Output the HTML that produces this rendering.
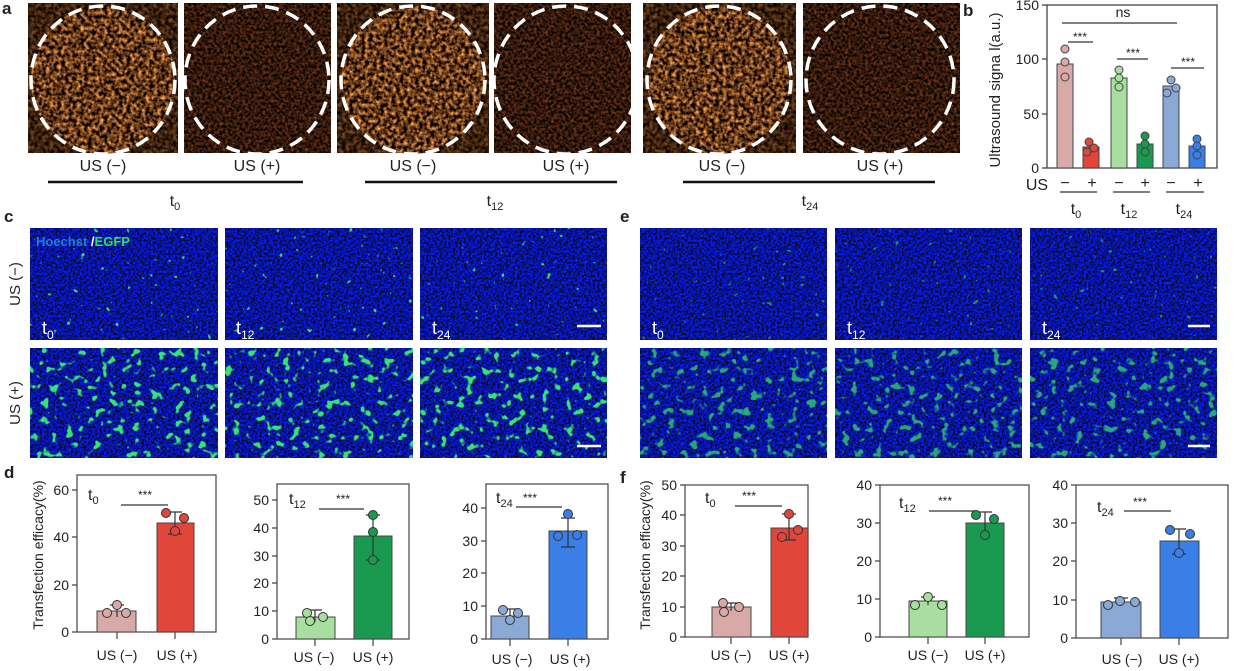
<!DOCTYPE html>
<html><head><meta charset="utf-8"><style>body{margin:0;background:#fff}svg{display:block}text{font-family:"Liberation Sans",Arial,sans-serif;fill:#222}filter{color-interpolation-filters:sRGB}</style></head><body>
<svg width="1239" height="671" viewBox="0 0 1239 671" xmlns="http://www.w3.org/2000/svg">
<defs>
<filter id="us" x="0" y="0" width="100%" height="100%" color-interpolation-filters="sRGB"><feTurbulence type="fractalNoise" baseFrequency="0.26" numOctaves="2" seed="3"/><feColorMatrix values="1.9 0 0 0 -0.55  1.3 0 0 0 -0.42  0.6 0 0 0 -0.2  0 0 0 0 1"/></filter>
<filter id="usd" x="0" y="0" width="100%" height="100%" color-interpolation-filters="sRGB"><feTurbulence type="fractalNoise" baseFrequency="0.35" numOctaves="2" seed="7"/><feColorMatrix values="0.9 0 0 0 -0.25  0.45 0 0 0 -0.13  0.18 0 0 0 -0.05  0 0 0 0 1"/></filter>
<filter id="blue" x="0" y="0" width="100%" height="100%" color-interpolation-filters="sRGB"><feTurbulence type="fractalNoise" baseFrequency="0.45" numOctaves="2" seed="2"/><feColorMatrix values="0 0 0 0 0.03  0.15 0 0 0 0.0  2.4 0 0 0 -0.6  0 0 0 0 1"/></filter>
<filter id="grn" x="0" y="0" width="100%" height="100%" color-interpolation-filters="sRGB"><feTurbulence type="fractalNoise" baseFrequency="0.12" numOctaves="2" seed="5"/><feColorMatrix values="0 0 0 0 0.2  0 0 0 0 0.9  0 0 0 0 0.45  10 0 0 0 -6.0"/></filter>
<filter id="grnl" x="0" y="0" width="100%" height="100%" color-interpolation-filters="sRGB"><feTurbulence type="fractalNoise" baseFrequency="0.15" numOctaves="2" seed="9"/><feColorMatrix values="0 0 0 0 0.2  0 0 0 0 0.85  0 0 0 0 0.45  14 0 0 0 -10.3"/></filter>
</defs>

<!-- panel a -->
<text x="2" y="14" font-size="17" font-weight="bold">a</text>
<g>
<rect x="28" y="3" width="150" height="150" filter="url(#us)"/>
<rect x="184" y="3" width="147" height="150" filter="url(#usd)"/>
<rect x="337" y="3" width="152" height="150" filter="url(#us)"/>
<rect x="494" y="3" width="137" height="150" filter="url(#usd)"/>
<rect x="643" y="3" width="153" height="150" filter="url(#us)"/>
<rect x="803" y="3" width="157" height="150" filter="url(#usd)"/>
<g fill="#1a0c04" opacity="0.55" fill-rule="evenodd">
<path d="M28 3h150v150h-150z M31 80a72 74 0 1 0 144 0a72 74 0 1 0 -144 0z"/>
<path d="M337 3h152v150h-152z M341 80a72 74 0 1 0 144 0a72 74 0 1 0 -144 0z"/>
<path d="M643 3h153v150h-153z M647 80a72 74 0 1 0 144 0a72 74 0 1 0 -144 0z"/>
</g>
<g fill="none" stroke="#fff" stroke-width="3.5" stroke-dasharray="14 8">
<ellipse cx="103" cy="80" rx="72" ry="74"/><ellipse cx="257" cy="80" rx="72" ry="74"/>
<ellipse cx="413" cy="80" rx="72" ry="74"/><ellipse cx="566" cy="80" rx="72" ry="74"/>
<ellipse cx="719" cy="80" rx="72" ry="74"/><ellipse cx="880" cy="80" rx="74" ry="74"/>
</g>
</g>
<g font-size="16" text-anchor="middle">
<text x="103" y="171">US (−)</text><text x="257" y="171">US (+)</text>
<text x="413" y="171">US (−)</text><text x="566" y="171">US (+)</text>
<text x="722" y="171">US (−)</text><text x="880" y="171">US (+)</text>
<text x="175" y="206">t<tspan font-size="11" dy="4">0</tspan></text>
<text x="495" y="206">t<tspan font-size="11" dy="4">12</tspan></text>
<text x="810" y="206">t<tspan font-size="11" dy="4">24</tspan></text>
</g>
<g stroke="#111" stroke-width="2.5"><line x1="48" y1="182" x2="303" y2="182"/><line x1="365" y1="182" x2="617" y2="182"/><line x1="683" y1="182" x2="935" y2="182"/></g>

<!-- panel b -->
<text x="963" y="16" font-size="17" font-weight="bold">b</text>
<g stroke="#444" stroke-width="1.3" fill="none"><rect x="1047" y="5" width="170" height="163"/>
<line x1="1042" y1="5" x2="1047" y2="5"/><line x1="1042" y1="59" x2="1047" y2="59"/><line x1="1042" y1="114" x2="1047" y2="114"/><line x1="1042" y1="168" x2="1047" y2="168"/></g>
<g font-size="14" text-anchor="end"><text x="1039" y="10">150</text><text x="1039" y="64">100</text><text x="1039" y="119">50</text><text x="1039" y="173">0</text></g>
<text transform="translate(1000,90) rotate(-90)" font-size="15" text-anchor="middle">Ultrasound signa l(a.u.)</text>
<g stroke="#444" stroke-width="1">
<rect x="1057" y="64" width="16" height="104" fill="#d9a9a8"/><rect x="1083" y="147" width="16" height="21" fill="#e0463a"/>
<rect x="1111" y="78" width="16" height="90" fill="#a8dea0"/><rect x="1137" y="144" width="16" height="24" fill="#1a9a50"/>
<rect x="1163" y="86" width="16" height="82" fill="#8aa9d4"/><rect x="1189" y="146" width="16" height="22" fill="#3a7ee8"/>
</g>
<g stroke="#444" stroke-width="1" fill="#d9a9a8"><circle cx="1065" cy="49" r="4"/><circle cx="1065" cy="62" r="4"/><circle cx="1065" cy="77" r="4"/></g>
<g stroke="#444" stroke-width="1" fill="#e0463a"><circle cx="1089" cy="142" r="4"/><circle cx="1094" cy="148" r="4"/><circle cx="1087" cy="152" r="4"/></g>
<g stroke="#444" stroke-width="1" fill="#a8dea0"><circle cx="1119" cy="70" r="4"/><circle cx="1119" cy="78" r="4"/><circle cx="1119" cy="87" r="4"/></g>
<g stroke="#444" stroke-width="1" fill="#1a9a50"><circle cx="1145" cy="136" r="4"/><circle cx="1145" cy="144" r="4"/><circle cx="1145" cy="152" r="4"/></g>
<g stroke="#444" stroke-width="1" fill="#8aa9d4"><circle cx="1171" cy="80" r="4"/><circle cx="1176" cy="88" r="4"/><circle cx="1167" cy="93" r="4"/></g>
<g stroke="#444" stroke-width="1" fill="#3a7ee8"><circle cx="1197" cy="139" r="4"/><circle cx="1197" cy="146" r="4"/><circle cx="1197" cy="155" r="4"/></g>
<g stroke="#333" stroke-width="1.2"><line x1="1062" y1="23" x2="1177" y2="23"/><line x1="1068" y1="42" x2="1093" y2="42"/><line x1="1117" y1="59" x2="1148" y2="59"/><line x1="1171" y1="68" x2="1204" y2="68"/>
<line x1="1060" y1="192" x2="1097" y2="192"/><line x1="1113" y1="192" x2="1150" y2="192"/><line x1="1166" y1="192" x2="1204" y2="192"/></g>
<text x="1123" y="17" font-size="14" text-anchor="middle">ns</text>
<g font-size="12" text-anchor="middle"><text x="1080" y="41">***</text><text x="1133" y="57">***</text><text x="1188" y="66">***</text></g>
<g font-size="16" text-anchor="middle"><text x="1037" y="190">US</text><text x="1065" y="188">−</text><text x="1092" y="188">+</text><text x="1119" y="188">−</text><text x="1145" y="188">+</text><text x="1171" y="188">−</text><text x="1198" y="188">+</text>
<text x="1076" y="214">t<tspan font-size="11" dy="4">0</tspan></text><text x="1129" y="214">t<tspan font-size="11" dy="4">12</tspan></text><text x="1184" y="214">t<tspan font-size="11" dy="4">24</tspan></text></g>

<!-- panel c & e -->
<text x="4" y="222" font-size="17" font-weight="bold">c</text>
<text x="620" y="222" font-size="17" font-weight="bold">e</text>
<g>
<rect x="30" y="228" width="188" height="112" filter="url(#blue)"/><rect x="30" y="228" width="188" height="112" filter="url(#grnl)"/>
<rect x="225" y="228" width="188" height="112" filter="url(#blue)"/><rect x="225" y="228" width="188" height="112" filter="url(#grnl)"/>
<rect x="420" y="228" width="187" height="112" filter="url(#blue)"/><rect x="420" y="228" width="187" height="112" filter="url(#grnl)"/>
<rect x="30" y="348" width="188" height="110" filter="url(#blue)"/><rect x="30" y="348" width="188" height="110" filter="url(#grn)"/>
<rect x="225" y="348" width="188" height="110" filter="url(#blue)"/><rect x="225" y="348" width="188" height="110" filter="url(#grn)"/>
<rect x="420" y="348" width="187" height="110" filter="url(#blue)"/><rect x="420" y="348" width="187" height="110" filter="url(#grn)"/>
<rect x="640" y="228" width="187" height="112" filter="url(#blue)"/><rect x="640" y="228" width="187" height="112" filter="url(#grnl)" opacity="0.6"/>
<rect x="835" y="228" width="187" height="112" filter="url(#blue)"/><rect x="835" y="228" width="187" height="112" filter="url(#grnl)" opacity="0.6"/>
<rect x="1030" y="228" width="187" height="112" filter="url(#blue)"/><rect x="1030" y="228" width="187" height="112" filter="url(#grnl)" opacity="0.6"/>
<rect x="640" y="348" width="187" height="110" filter="url(#blue)"/><rect x="640" y="348" width="187" height="110" filter="url(#grn)" opacity="0.7"/>
<rect x="835" y="348" width="187" height="110" filter="url(#blue)"/><rect x="835" y="348" width="187" height="110" filter="url(#grn)" opacity="0.7"/>
<rect x="1030" y="348" width="187" height="110" filter="url(#blue)"/><rect x="1030" y="348" width="187" height="110" filter="url(#grn)" opacity="0.7"/>
</g>
<text x="36" y="246" font-size="13" font-weight="bold" style="fill:#1a7fe0">Hoechst <tspan style="fill:#fff">/</tspan><tspan style="fill:#2ee060">EGFP</tspan></text>
<g font-size="18">
<text x="42" y="334" style="fill:#fff">t<tspan font-size="12" dy="5">0</tspan></text><text x="236" y="334" style="fill:#fff">t<tspan font-size="12" dy="5">12</tspan></text><text x="432" y="334" style="fill:#fff">t<tspan font-size="12" dy="5">24</tspan></text>
<text x="652" y="334" style="fill:#fff">t<tspan font-size="12" dy="5">0</tspan></text><text x="847" y="334" style="fill:#fff">t<tspan font-size="12" dy="5">12</tspan></text><text x="1042" y="334" style="fill:#fff">t<tspan font-size="12" dy="5">24</tspan></text>
</g>
<g stroke="#fff" stroke-width="2.5"><line x1="577" y1="326" x2="601" y2="326"/><line x1="577" y1="446" x2="601" y2="446"/><line x1="1188" y1="326" x2="1210" y2="326"/><line x1="1188" y1="446" x2="1210" y2="446"/></g>
<text transform="translate(20,284) rotate(-90)" font-size="15" text-anchor="middle">US (−)</text>
<text transform="translate(20,403) rotate(-90)" font-size="15" text-anchor="middle">US (+)</text>

<!-- panel d -->
<text x="4" y="478" font-size="17" font-weight="bold">d</text>
<text x="620" y="483" font-size="17" font-weight="bold">f</text>
<text transform="translate(43,555) rotate(-90)" font-size="14" text-anchor="middle">Transfection efficacy(%)</text>
<text transform="translate(650,555) rotate(-90)" font-size="14" text-anchor="middle">Transfection efficacy(%)</text>

<g stroke="#444" stroke-width="1.2" fill="none">
<rect x="77" y="475" width="139" height="157"/><rect x="277" y="484" width="132" height="155"/><rect x="486" y="484" width="122" height="155"/>
<rect x="685" y="485" width="123" height="152"/><rect x="880" y="485" width="149" height="152"/><rect x="1076" y="485" width="152" height="153"/>
<path d="M72 632h5M72 585h5M72 537h5M72 490h5M117 632v7M175 632v7"/>
<path d="M272 639h5M272 611h5M272 583h5M272 556h5M272 528h5M272 500h5M315 639v7M373 639v7"/>
<path d="M481 639h5M481 606h5M481 573h5M481 541h5M481 508h5M510 639v7M568 639v7"/>
<path d="M680 637h5M680 607h5M680 576h5M680 546h5M680 515h5M680 485h5M731 637v7M789 637v7"/>
<path d="M875 637h5M875 599h5M875 561h5M875 523h5M875 485h5M928 637v7M985 637v7"/>
<path d="M1071 638h5M1071 600h5M1071 561h5M1071 523h5M1071 485h5M1121 638v7M1179 638v7"/>
</g>
<g font-size="14" text-anchor="end">
<text x="69" y="637">0</text><text x="69" y="590">20</text><text x="69" y="542">40</text><text x="69" y="495">60</text>
<text x="269" y="644">0</text><text x="269" y="616">10</text><text x="269" y="588">20</text><text x="269" y="561">30</text><text x="269" y="533">40</text><text x="269" y="505">50</text>
<text x="478" y="644">0</text><text x="478" y="611">10</text><text x="478" y="578">20</text><text x="478" y="546">30</text><text x="478" y="513">40</text>
<text x="677" y="642">0</text><text x="677" y="612">10</text><text x="677" y="581">20</text><text x="677" y="551">30</text><text x="677" y="520">40</text><text x="677" y="490">50</text>
<text x="872" y="642">0</text><text x="872" y="604">10</text><text x="872" y="566">20</text><text x="872" y="528">30</text><text x="872" y="490">40</text>
<text x="1068" y="643">0</text><text x="1068" y="605">10</text><text x="1068" y="566">20</text><text x="1068" y="528">30</text><text x="1068" y="490">40</text>
</g>
<g font-size="14" text-anchor="middle">
<text x="117" y="660">US (−)</text><text x="177" y="660">US (+)</text>
<text x="314" y="662">US (−)</text><text x="373" y="662">US (+)</text>
<text x="512" y="664">US (−)</text><text x="570" y="664">US (+)</text>
<text x="731" y="660">US (−)</text><text x="789" y="660">US (+)</text>
<text x="928" y="660">US (−)</text><text x="985" y="660">US (+)</text>
<text x="1122" y="664">US (−)</text><text x="1179" y="664">US (+)</text>
</g>
<g font-size="16">
<text x="88" y="500">t<tspan font-size="11" dy="4">0</tspan></text><text x="289" y="504">t<tspan font-size="11" dy="4">12</tspan></text><text x="496" y="503">t<tspan font-size="11" dy="4">24</tspan></text>
<text x="705" y="503">t<tspan font-size="11" dy="4">0</tspan></text><text x="899" y="508">t<tspan font-size="11" dy="4">12</tspan></text><text x="1097" y="512">t<tspan font-size="11" dy="4">24</tspan></text>
</g>
<g font-size="12" text-anchor="middle"><text x="145" y="499">***</text><text x="343" y="503">***</text><text x="530" y="502">***</text><text x="749" y="500">***</text><text x="945" y="505">***</text><text x="1140" y="506">***</text></g>
<g stroke="#333" stroke-width="1.2"><line x1="121" y1="505" x2="168" y2="505"/><line x1="319" y1="509" x2="364" y2="509"/><line x1="516" y1="507" x2="562" y2="507"/><line x1="735" y1="506" x2="782" y2="506"/><line x1="929" y1="511" x2="975" y2="511"/><line x1="1124" y1="511" x2="1171" y2="511"/></g>

<g stroke="#444" stroke-width="1">
<rect x="97" y="611" width="39" height="21" fill="#d9a9a8"/><rect x="157" y="523" width="37" height="109" fill="#e0463a"/>
<rect x="296" y="617" width="39" height="22" fill="#a8dea0"/><rect x="354" y="536" width="38" height="103" fill="#1a9a50"/>
<rect x="491" y="616" width="38" height="23" fill="#8aa9d4"/><rect x="549" y="531" width="38" height="108" fill="#3a7ee8"/>
<rect x="712" y="607" width="39" height="30" fill="#d9a9a8"/><rect x="771" y="528" width="37" height="109" fill="#e0463a"/>
<rect x="909" y="601" width="38" height="36" fill="#a8dea0"/><rect x="966" y="523" width="38" height="114" fill="#1a9a50"/>
<rect x="1101" y="602" width="40" height="36" fill="#8aa9d4"/><rect x="1160" y="541" width="39" height="97" fill="#3a7ee8"/>
</g>
<g stroke="#333" stroke-width="1.2" fill="none">
<path d="M117 605v12M110 605h14M175 512v22M168 512h14M168 534h14"/>
<path d="M315 610v12M308 610h14M373 515v45M366 515h14M366 560h14"/>
<path d="M510 609v12M503 609h14M568 518v29M561 518h14M561 547h14"/>
<path d="M731 603v8M724 603h14M789 514v26M782 514h14M782 540h14"/>
<path d="M928 597v8M921 597h14M985 512v20M978 512h14"/>
<path d="M1121 598v8M1114 598h14M1179 529v25M1172 529h14M1172 554h14"/>
</g>
<g stroke="#333" stroke-width="1">
<g fill="#d9a9a8"><circle cx="117" cy="605" r="4.5"/><circle cx="107" cy="613" r="4.5"/><circle cx="126" cy="613" r="4.5"/></g>
<g fill="#e0463a"><circle cx="166" cy="513" r="4.5"/><circle cx="184" cy="518" r="4.5"/><circle cx="175" cy="531" r="4.5"/></g>
<g fill="#a8dea0"><circle cx="307" cy="613" r="4.5"/><circle cx="323" cy="617" r="4.5"/><circle cx="310" cy="621" r="4.5"/></g>
<g fill="#1a9a50"><circle cx="373" cy="515" r="4.5"/><circle cx="373" cy="532" r="4.5"/><circle cx="373" cy="560" r="4.5"/></g>
<g fill="#8aa9d4"><circle cx="503" cy="610" r="4.5"/><circle cx="518" cy="613" r="4.5"/><circle cx="510" cy="620" r="4.5"/></g>
<g fill="#3a7ee8"><circle cx="568" cy="514" r="4.5"/><circle cx="558" cy="536" r="4.5"/><circle cx="577" cy="535" r="4.5"/></g>
<g fill="#d9a9a8"><circle cx="723" cy="603" r="4.5"/><circle cx="739" cy="607" r="4.5"/><circle cx="724" cy="612" r="4.5"/></g>
<g fill="#e0463a"><circle cx="789" cy="514" r="4.5"/><circle cx="798" cy="530" r="4.5"/><circle cx="782" cy="537" r="4.5"/></g>
<g fill="#a8dea0"><circle cx="928" cy="597" r="4.5"/><circle cx="915" cy="605" r="4.5"/><circle cx="942" cy="605" r="4.5"/></g>
<g fill="#1a9a50"><circle cx="976" cy="515" r="4.5"/><circle cx="994" cy="519" r="4.5"/><circle cx="985" cy="535" r="4.5"/></g>
<g fill="#8aa9d4"><circle cx="1108" cy="605" r="4.5"/><circle cx="1120" cy="601" r="4.5"/><circle cx="1135" cy="602" r="4.5"/></g>
<g fill="#3a7ee8"><circle cx="1170" cy="530" r="4.5"/><circle cx="1190" cy="534" r="4.5"/><circle cx="1179" cy="553" r="4.5"/></g>
</g>
</svg>
</body></html>
